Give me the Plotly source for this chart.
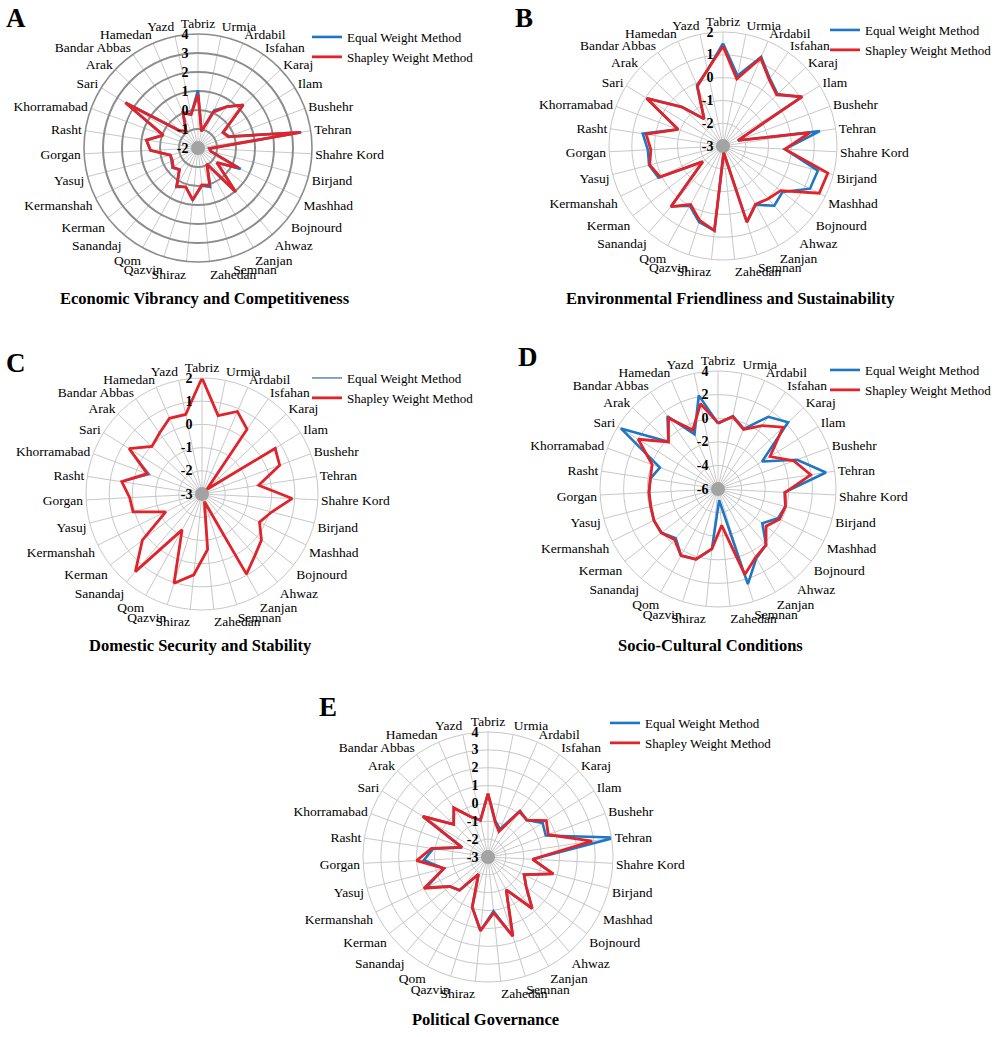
import plotly.graph_objects as go

W, H = 1000, 1037

cities = ["Tabriz", "Urmia", "Ardabil", "Isfahan", "Karaj", "Ilam", "Bushehr", "Tehran",
          "Shahre Kord", "Birjand", "Mashhad", "Bojnourd", "Ahwaz", "Zanjan", "Semnan",
          "Zahedan", "Shiraz", "Qazvin", "Qom", "Sanandaj", "Kerman", "Kermanshah", "Yasuj",
          "Gorgan", "Rasht", "Khorramabad", "Sari", "Arak", "Bandar Abbas", "Hamedan", "Yazd"]

# A: Economic Vibrancy and Competitiveness
econ_equal = [1.05, -1.1, 0.15, 0.65, 1.3, -0.45, -0.25, 3.5, -1.4, -1.3, 0.5, -0.75, 1.05, -1.0,
              0.15, 0.0, 0.75, 0.15, 0.35, -0.5, -0.3, -0.45, -0.5, 0.5, 0.75, -0.05, 2.5, -0.7,
              -0.9, 0.0, -0.2]
econ_shapley = [0.82, -1.1, 0.05, 0.65, 1.27, -0.45, -0.3, 3.45, -1.4, -1.3, 0.37, -0.75, 1.05,
                -1.05, 0.05, -0.05, 0.75, 0.15, 0.3, -0.5, -0.35, -0.5, -0.5, 0.5, 0.75, -0.05,
                2.5, -0.7, -0.9, 0.0, -0.2]

# B: Environmental Friendliness and Sustainability
env_equal = [1.5, 0.15, 1.25, 0.6, 0.3, 1.05, -2.3, 1.3, -0.28, 1.3, 1.25, 0.3, 0.45, -0.05,
             0.5, -2.7, 0.73, 0.5, 0.0, 0.5, -1.88, 0.15, 0.35, 0.3, 0.56, -0.9, 0.95, -0.5,
             -1.55, -0.1, 0.4]
env_shapley = [1.38, 0.0, 1.19, 0.55, 0.25, 1.1, -2.3, 0.85, -0.28, 1.75, 1.7, 0.2, 0.05, -0.07,
               0.5, -2.7, 0.73, 0.42, -0.07, 0.51, -1.88, 0.07, 0.32, 0.17, 0.41, -0.9, 0.94,
               -0.53, -1.55, -0.15, 0.4]

# C: Domestic Security and Stability
sec_equal = [2.0, 0.45, 0.87, 0.4, -2.7, 0.75, 0.57, -0.53, 0.89, 0.1, -0.24, 0.24, 0.5, 0.95,
             -2.65, -0.6, 0.5, 1.03, -1.23, 1.41, 0.25, -1.26, 0.07, 0.12, 0.5, -0.6, 0.7,
             -0.02, 0.2, 0.55, 0.5]
sec_shapley = [2.0, 0.45, 0.87, 0.4, -2.7, 0.71, 0.57, -0.53, 0.89, 0.1, -0.24, 0.24, 0.5, 0.95,
               -2.65, -0.6, 0.5, 1.03, -1.23, 1.41, 0.25, -1.26, 0.07, 0.12, 0.5, -0.48, 0.7,
               -0.02, 0.2, 0.55, 0.5]

# D: Socio-Cultural Conditions
soc_equal = [-0.45, 0.3, -0.45, 1.45, 2.2, -1.6, 1.15, 3.25, -0.35, -0.1, -0.35, -1.25, 0.25,
             0.7, 2.45, -5.05, -0.9, 0.25, 0.45, -0.5, 0.05, 0.05, -0.1, -0.15, -0.2, -0.75,
             3.7, -0.2, 1.5, -0.95, 2.1]
soc_shapley = [-0.4, 0.25, -0.5, 0.55, 1.6, -0.8, 0.85, 1.95, -0.3, -0.1, -0.2, -0.85, 0.25,
               0.6, 1.6, -2.9, -0.9, 0.23, 0.46, -0.35, 0.08, 0.05, -0.12, -0.14, -0.2, -0.05,
               1.97, -0.2, 1.34, -0.57, 1.37]

# E: Political Governance
pol_equal = [0.55, -0.95, -1.3, 0.15, 0.0, 0.6, 0.45, 4.2, -0.5, 0.75, -0.75, -0.3, 0.8, -0.9,
             1.65, 0.05, 1.15, -0.05, -1.9, -0.55, -0.3, 0.85, -0.45, 0.6, 0.1, -1.45, 1.3,
             -0.35, 0.35, -0.55, -0.9]
pol_shapley = [0.55, -1.0, -1.45, 0.1, 0.0, 0.85, 0.6, 2.9, -0.5, 0.78, -0.75, -0.3, 0.8, -0.9,
               1.65, 0.15, 1.15, -0.05, -1.9, -0.55, -0.3, 1.0, -0.45, 1.0, 0.2, -1.45, 1.3,
               -0.35, 0.35, -0.55, -0.9]

titles = ["Economic Vibrancy and Competitiveness",
          "Environmental Friendliness and Sustainability",
          "Domestic Security and Stability",
          "Socio-Cultural Conditions",
          "Political Governance"]
letters = ["A", "B", "C", "D", "E"]
series_names = ["Equal Weight Method", "Shapley Weight Method"]

panels = [
    dict(eq=econ_equal, sh=econ_shapley, rng=[-2, 4], dtick=1, cx=198, cy=148, R=114,
         ring="#8c8c8c", ringw=1.6, title=(205, 298), letter=(16, 18), legend=(307, 22)),
    dict(eq=env_equal, sh=env_shapley, rng=[-3, 2], dtick=1, cx=723, cy=146, R=114,
         ring="#c8c8c8", ringw=1, title=(730, 298), letter=(524, 18), legend=(825, 15)),
    dict(eq=sec_equal, sh=sec_shapley, rng=[-3, 2], dtick=1, cx=202, cy=494, R=116,
         ring="#c8c8c8", ringw=1, title=(200, 645), letter=(16, 363), legend=(307, 363)),
    dict(eq=soc_equal, sh=soc_shapley, rng=[-6, 4], dtick=2, cx=718, cy=489, R=118,
         ring="#c8c8c8", ringw=1, title=(710, 645), letter=(528, 357), legend=(825, 355)),
    dict(eq=pol_equal, sh=pol_shapley, rng=[-3, 4], dtick=1, cx=488, cy=857, R=125,
         ring="#c8c8c8", ringw=1, title=(485, 1019), letter=(328, 707), legend=(605, 708)),
]

SERIF = "Liberation Serif"
BLUE = "#1f77c4"
RED = "#e2232a"


def px(x):
    return x / W


def py(y):
    return 1 - y / H


fig = go.Figure()
layout = dict(width=W, height=H, margin=dict(l=0, r=0, t=0, b=0, autoexpand=False),
              paper_bgcolor="white", plot_bgcolor="white", showlegend=True)
annotations = []

for i, p in enumerate(panels):
    pname = "polar" if i == 0 else f"polar{i+1}"
    lname = "legend" if i == 0 else f"legend{i+1}"
    theta = cities + [cities[0]]
    blue_w = 1.5 if i == 2 else 2.6
    lo, hi = p["rng"]
    tickvals = list(range(lo, hi + 1, p["dtick"]))
    ticktext = [f"{v}\u2002" for v in tickvals]
    # grey hub where the spokes meet (at the axis minimum)
    fig.add_trace(go.Scatterpolar(r=[lo], theta=[cities[0]], mode="markers",
                                  marker=dict(color="#a3a3a3", size=14), showlegend=False,
                                  hoverinfo="skip", subplot=pname))
    fig.add_trace(go.Scatterpolar(r=p["eq"] + [p["eq"][0]], theta=theta, mode="lines",
                                  name=series_names[0],
                                  line=dict(color=BLUE if i != 2 else "#5a86b8", width=blue_w),
                                  subplot=pname, legend=lname))
    fig.add_trace(go.Scatterpolar(r=p["sh"] + [p["sh"][0]], theta=theta, mode="lines",
                                  name=series_names[1], line=dict(color=RED, width=2.8),
                                  subplot=pname, legend=lname))
    cx, cy, R = p["cx"], p["cy"], p["R"]
    layout[pname] = dict(
        domain=dict(x=[px(cx - R), px(cx + R)], y=[py(cy + R), py(cy - R)]),
        bgcolor="white",
        radialaxis=dict(range=[lo, hi], tickmode="array", tickvals=tickvals, ticktext=ticktext,
                        showline=False, ticks="", angle=90, side="counterclockwise", tickangle=90,
                        tickfont=dict(family=SERIF, size=14, color="black", weight="bold"),
                        gridcolor=p["ring"], gridwidth=p["ringw"]),
        angularaxis=dict(rotation=90, direction="clockwise", categoryorder="array",
                         categoryarray=cities, tickfont=dict(family=SERIF, size=13.5, color="black"),
                         gridcolor="#c8c8c8", gridwidth=1, showline=True,
                         linecolor=p["ring"], linewidth=p["ringw"], ticks=""),
    )
    lx, ly = p["legend"]
    layout[lname] = dict(x=px(lx), y=py(ly), xanchor="left", yanchor="top",
                         bgcolor="rgba(0,0,0,0)", font=dict(family=SERIF, size=13, color="black"),
                         tracegroupgap=0, itemwidth=30)
    tx, ty = p["title"]
    annotations.append(dict(text=f"<b>{titles[i]}</b>", x=px(tx), y=py(ty), xref="paper",
                            yref="paper", showarrow=False, xanchor="center", yanchor="middle",
                            font=dict(family=SERIF, size=16.5, color="black")))
    lx2, ly2 = p["letter"]
    annotations.append(dict(text=f"<b>{letters[i]}</b>", x=px(lx2), y=py(ly2), xref="paper",
                            yref="paper", showarrow=False, xanchor="center", yanchor="middle",
                            font=dict(family=SERIF, size=27, color="black")))

layout["annotations"] = annotations
fig.update_layout(**layout)
fig.write_html("out.html", config={"displayModeBar": False},
               post_script="document.body.style.margin='0px';")
